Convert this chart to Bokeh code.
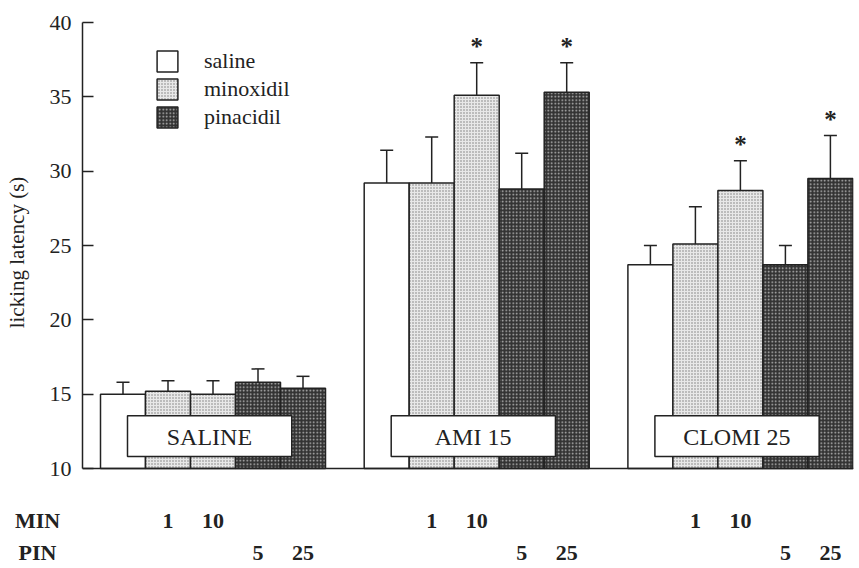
from bokeh.plotting import figure
from bokeh.layouts import column
from bokeh.models import (Range1d, ColumnDataSource, Whisker, TeeHead, Span,
                          Legend, LegendItem, FixedTicker)
from bokeh.core.properties import value
from bokeh.embed import file_html
from bokeh.resources import INLINE

# ---------------- data ----------------
groups = ["SALINE", "AMI 15", "CLOMI 25"]
treatments = ["saline", "minoxidil", "minoxidil", "pinacidil", "pinacidil"]
min_doses = ["", "1", "10", "", ""]
pin_doses = ["", "", "", "5", "25"]
row_titles = ["MIN", "PIN"]

saline_means = [15.0, 15.2, 15.0, 15.8, 15.4]
saline_sem = [0.8, 0.7, 0.9, 0.9, 0.8]
ami_means = [29.2, 29.2, 35.1, 28.8, 35.3]
ami_sem = [2.2, 3.1, 2.2, 2.4, 2.0]
clomi_means = [23.7, 25.1, 28.7, 23.7, 29.5]
clomi_sem = [1.3, 2.5, 2.0, 1.3, 2.9]
significant = [[False, False, False, False, False],
               [False, False, True, False, True],
               [False, False, True, False, True]]

y_ticks = [10, 15, 20, 25, 30, 35, 40]

# ---------------- layout constants ----------------
FONT = "Liberation Serif"
INK = "#222222"
BAR_PX = 45.0
W = 859
FRAME_L, FRAME_R, FRAME_T = 82, 853, 22
PLOT_PX = 446            # pixels for 10..40
BASE_PAD = 14            # pixels below y=10 inside main frame
H1 = FRAME_T + PLOT_PX + BASE_PAD
H2 = 568 - H1
group_pitch = 5.86
first_start = 0.4

means_all = [saline_means, ami_means, clomi_means]
sem_all = [saline_sem, ami_sem, clomi_sem]

rows = {t: dict(x=[], top=[], cap=[]) for t in ["saline", "minoxidil", "pinacidil"]}
whisk = dict(x=[], top=[], cap=[])
stars = dict(x=[], y=[], t=[])
doses = dict(x=[], mn=[], pn=[])
boxes = dict(left=[], right=[], cx=[], label=[])
for g, name in enumerate(groups):
    start = first_start + g * group_pitch
    for i, tr in enumerate(treatments):
        xc = start + i + 0.5
        m = means_all[g][i]
        c = m + sem_all[g][i]
        rows[tr]["x"].append(xc)
        rows[tr]["top"].append(m)
        rows[tr]["cap"].append(c)
        whisk["x"].append(xc)
        whisk["top"].append(m)
        whisk["cap"].append(c)
        if significant[g][i]:
            stars["x"].append(xc)
            stars["y"].append(c + 1.1)
            stars["t"].append("*")
        if min_doses[i] or pin_doses[i]:
            doses["x"].append(xc)
            doses["mn"].append(min_doses[i])
            doses["pn"].append(pin_doses[i])
    boxes["left"].append(start + 0.6)
    boxes["right"].append(start + 4.25)
    boxes["cx"].append(start + 2.42)
    boxes["label"].append(name)

px_per_unit = PLOT_PX / 30.0
x_max = (FRAME_R - FRAME_L) / BAR_PX

p = figure(width=W, height=H1, output_backend="svg", toolbar_location=None,
           x_range=Range1d(0, x_max),
           y_range=Range1d(10 - BASE_PAD / px_per_unit, 40),
           x_axis_type=None,
           min_border_left=FRAME_L, min_border_right=W - FRAME_R,
           min_border_top=FRAME_T, min_border_bottom=0)
p.frame_align = False
p.outline_line_color = None
p.grid.visible = False

# y axis
p.yaxis.bounds = (10, 40)
p.yaxis.ticker = FixedTicker(ticks=y_ticks)
p.yaxis.major_tick_in = 11
p.yaxis.major_tick_out = 0
p.yaxis.minor_tick_line_color = None
p.yaxis.axis_line_width = 1.5
p.yaxis.major_tick_line_width = 1.5
p.yaxis.axis_line_color = INK
p.yaxis.major_tick_line_color = INK
p.yaxis.major_label_text_font = FONT
p.yaxis.major_label_text_font_size = "22px"
p.yaxis.major_label_text_color = INK
p.yaxis.major_label_standoff = 11
p.yaxis.axis_label = "licking latency (s)"
p.yaxis.axis_label_text_font = FONT
p.yaxis.axis_label_text_font_size = "21px"
p.yaxis.axis_label_text_font_style = "normal"
p.yaxis.axis_label_text_color = INK
p.yaxis.axis_label_standoff = 18

# baseline (x axis line)
p.add_layout(Span(location=10, dimension="width", line_color=INK, line_width=1.5))

styles = {
    "saline": dict(fill_color="white"),
    "minoxidil": dict(fill_color="#e8e8e8", hatch_pattern="dot", hatch_color="#7a7a7a",
                      hatch_scale=3, hatch_weight=1),
    "pinacidil": dict(fill_color="#333333", hatch_pattern="dot", hatch_color="#bdbdbd",
                      hatch_scale=3.5, hatch_weight=1),
}
renderers = {}
for tr in ["saline", "minoxidil", "pinacidil"]:
    src = ColumnDataSource(rows[tr])
    renderers[tr] = p.vbar(x="x", top="top", bottom=10, width=1.0, source=src,
                           line_color=INK, line_width=1.5, **styles[tr])

p.add_layout(Whisker(base="x", lower="top", upper="cap", source=ColumnDataSource(whisk),
                     line_color=INK, line_width=1.5, lower_head=None,
                     upper_head=TeeHead(size=13, line_width=1.5, line_color=INK),
                     level="annotation"))

p.text(x="x", y="y", text="t", source=ColumnDataSource(stars), text_font=value(FONT),
       text_font_size="25px", text_font_style="bold", text_align="center",
       text_baseline="middle", text_color=INK)

bsrc = ColumnDataSource(boxes)
p.quad(left="left", right="right", bottom=10.8, top=13.55, source=bsrc,
       fill_color="white", line_color=INK, line_width=1.5)
p.text(x="cx", y=12.15, text="label", source=bsrc, text_font=value(FONT),
       text_font_size="24px", text_align="center", text_baseline="middle",
       text_color=INK)

legend = Legend(items=[LegendItem(label=t, renderers=[renderers[t]])
                       for t in ["saline", "minoxidil", "pinacidil"]],
                location=(72, 338 + BASE_PAD), padding=0, margin=0, spacing=2,
                glyph_width=26, glyph_height=26, label_height=26, label_standoff=24,
                label_text_font=FONT, label_text_font_size="22px",
                label_text_color=INK, border_line_color=None,
                background_fill_alpha=0)
p.add_layout(legend)

# ---------------- dose rows (second, axis-less figure) ----------------
q = figure(width=W, height=H2, output_backend="svg", toolbar_location=None,
           x_range=Range1d(-FRAME_L / BAR_PX, (W - FRAME_L) / BAR_PX),
           y_range=Range1d(0, H2), x_axis_type=None, y_axis_type=None,
           min_border_left=0, min_border_right=0, min_border_top=0, min_border_bottom=0)
q.frame_align = False
q.outline_line_color = None
q.grid.visible = False

MIN_Y = 568 - 520
PIN_Y = 568 - 552
dsrc = ColumnDataSource(doses)
common = dict(text_font=value(FONT), text_font_size="22px", text_font_style="bold",
              text_align="center", text_baseline="middle", text_color=INK)
q.text(x="x", y=MIN_Y, text="mn", source=dsrc, **common)
q.text(x="x", y=PIN_Y, text="pn", source=dsrc, **common)
q.text(x=[-1.0, -1.0], y=[MIN_Y, PIN_Y], text=row_titles, **common)

layout = column(p, q, spacing=0)
open("out.html", "w").write(file_html(layout, INLINE))
